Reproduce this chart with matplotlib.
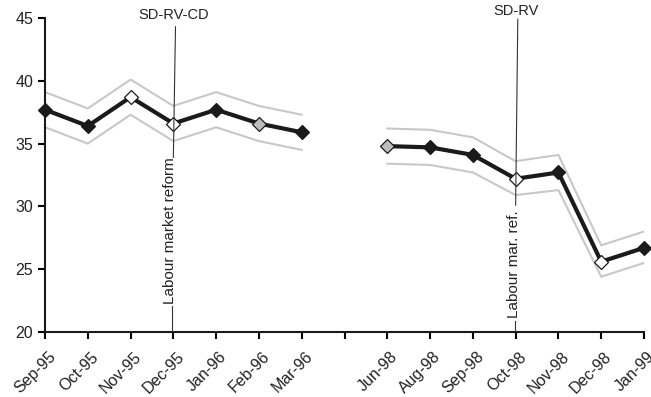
import numpy as np
import matplotlib.pyplot as plt
from matplotlib.transforms import ScaledTranslation

plt.rcParams['font.family'] = ['Liberation Sans', 'DejaVu Sans']

# categories (empty slot separates the two periods)
months = ['Sep-95', 'Oct-95', 'Nov-95', 'Dec-95', 'Jan-96', 'Feb-96', 'Mar-96', '',
          'Jun-98', 'Aug-98', 'Sep-98', 'Oct-98', 'Nov-98', 'Dec-98', 'Jan-99']
nan = np.nan
estimate = [37.7, 36.4, 38.7, 36.6, 37.7, 36.6, 35.9, nan,
            34.8, 34.7, 34.1, 32.2, 32.7, 25.6, 26.7]
upper = [39.1, 37.8, 40.1, 38.0, 39.1, 38.0, 37.3, nan,
         36.2, 36.1, 35.5, 33.6, 34.1, 26.9, 28.0]
lower = [36.3, 35.0, 37.3, 35.2, 36.3, 35.2, 34.5, nan,
         33.4, 33.3, 32.7, 30.9, 31.3, 24.4, 25.5]
# marker fill per point: k = black, w = white, g = grey
fills = ['k', 'k', 'w', 'w', 'k', 'g', 'k', '',
         'g', 'k', 'k', 'w', 'k', 'w', 'k']

fill_col = {'k': '#1a1a1a', 'w': 'white', 'g': '#bdbdbd'}

x = np.arange(len(months))

fig = plt.figure(figsize=(6.51, 3.97), dpi=100)
ax = fig.add_axes([45 / 651, 65 / 397, 599 / 651, 314 / 397])

ax.plot(x, upper, color='#c8c8c8', lw=1.5, zorder=2)
ax.plot(x, lower, color='#c8c8c8', lw=1.5, zorder=2)
ax.plot(x, estimate, color='#1a1a1a', lw=3, zorder=3, clip_on=False)
for xi, yi, f in zip(x, estimate, fills):
    if f:
        ax.plot(xi, yi, 'D', ms=7, mfc=fill_col[f], mec='#1a1a1a', mew=0.9,
                zorder=4, clip_on=False)

# reform annotations
ax.plot([3.05, 3.0], [44.3, 33.9], color='#333333', lw=0.8, zorder=5, clip_on=False)
ax.plot([2.97, 2.97], [22.1, 20.1], color='#333333', lw=0.8, zorder=5)
ax.text(3.0, 44.7, 'SD-RV-CD', ha='center', va='bottom', fontsize=10.5,
        color='#222222')
ax.text(2.92, 28.05, 'Labour market reform', rotation=90, ha='center',
        va='center', fontsize=11, color='#222222')

ax.plot([11.05, 11.0], [44.9, 30.1], color='#333333', lw=0.8, zorder=5, clip_on=False)
ax.plot([10.98, 10.98], [20.9, 20.1], color='#333333', lw=0.8, zorder=5)
ax.text(11.0, 45.0, 'SD-RV', ha='center', va='bottom', fontsize=10.5,
        color='#222222')
ax.text(10.95, 25.4, 'Labour mar. ref.', rotation=90, ha='center',
        va='center', fontsize=11, color='#222222')

ax.set_xlim(0, 14)
ax.set_ylim(20, 45)
ax.set_yticks(range(20, 46, 5))
ax.set_xticks(x)
ax.set_xticklabels(months, rotation=45, ha='right', rotation_mode='anchor')
ax.tick_params(axis='y', labelsize=11.5)
ax.tick_params(axis='x', labelsize=11.5, pad=3)
ax.tick_params(axis='both', length=5, width=1.5, direction='out',
               labelcolor='#222222')
shift = ScaledTranslation(0.03, -0.06, fig.dpi_scale_trans)
for lab in ax.get_xticklabels():
    lab.set_transform(lab.get_transform() + shift)
for s in ['top', 'right']:
    ax.spines[s].set_visible(False)
for s in ['left', 'bottom']:
    ax.spines[s].set_linewidth(1.5)
    ax.spines[s].set_color('#1a1a1a')

fig.savefig('out.png', dpi=100)
